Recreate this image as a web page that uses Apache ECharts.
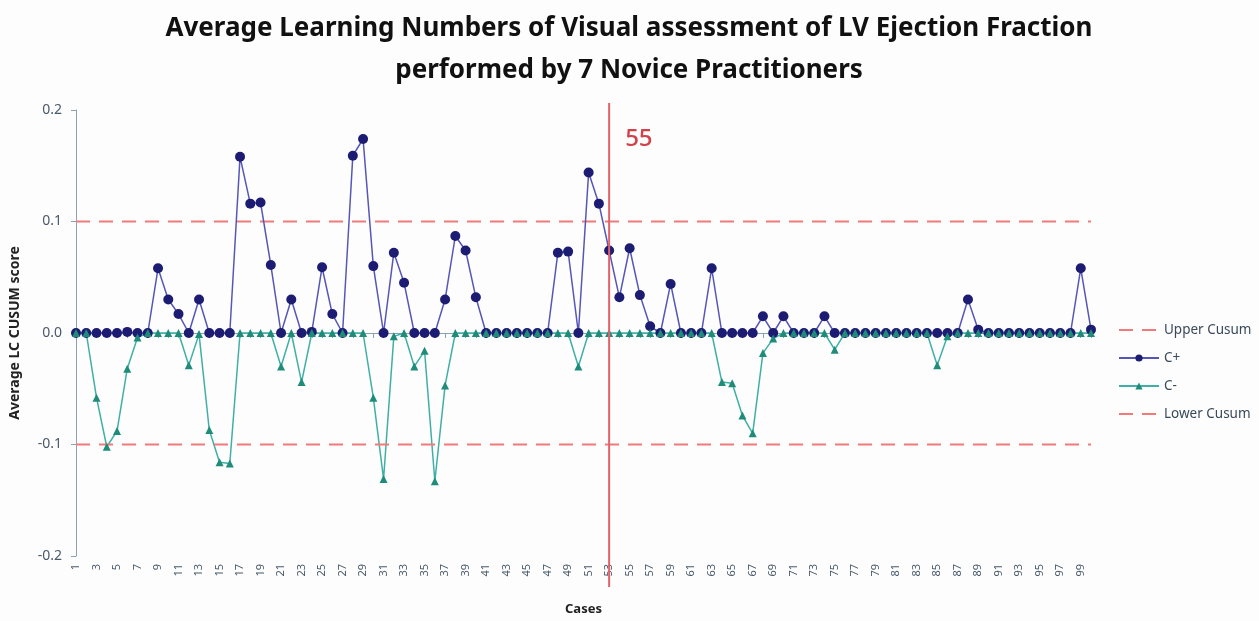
<!DOCTYPE html>
<html>
<head>
<meta charset="utf-8">
<script src="https://cdn.jsdelivr.net/npm/echarts@6/dist/echarts.min.js"></script>
<style>
html,body{margin:0;padding:0;background:#fdfdfd;}
#c1{width:1259px;height:621px;}
</style>
</head>
<body>
<div id="c1"></div>
<script>
var cases = [1,2,3,4,5,6,7,8,9,10,11,12,13,14,15,16,17,18,19,20,
  21,22,23,24,25,26,27,28,29,30,31,32,33,34,35,36,37,38,39,40,
  41,42,43,44,45,46,47,48,49,50,51,52,53,54,55,56,57,58,59,60,
  61,62,63,64,65,66,67,68,69,70,71,72,73,74,75,76,77,78,79,80,
  81,82,83,84,85,86,87,88,89,90,91,92,93,94,95,96,97,98,99,100];

var c_plus = [0,0,0,0,0,0.001,0,0,0.058,0.030,
  0.017,0,0.030,0,0,0,0.158,0.116,0.117,0.061,
  0,0.030,0,0.001,0.059,0.017,0,0.159,0.174,0.060,
  0,0.072,0.045,0,0,0,0.030,0.087,0.074,0.032,
  0,0,0,0,0,0,0,0.072,0.073,0,
  0.144,0.116,0.074,0.032,0.076,0.034,0.006,0,0.044,0,
  0,0,0.058,0,0,0,0,0.015,0,0.015,
  0,0,0,0.015,0,0,0,0,0,0,
  0,0,0,0,0,0,0,0.030,0.003,0,
  0,0,0,0,0,0,0,0,0.058,0.003];

var c_minus = [0,0,-0.058,-0.102,-0.088,-0.032,-0.004,0,0,0,
  0,-0.029,-0.001,-0.087,-0.116,-0.117,0,0,0,0,
  -0.030,0,-0.044,0,0,0,0,0,0,-0.058,
  -0.131,-0.003,0,-0.030,-0.016,-0.133,-0.047,0,0,0,
  0,0,0,0,0,0,0,0,0,-0.030,
  0,0,0,0,0,0,0,0,0,0,
  0,0,0,-0.044,-0.045,-0.074,-0.090,-0.018,-0.005,0,
  0,0,0,0,-0.015,0,0,0,0,0,
  0,0,0,0,-0.029,-0.003,0,0,0,0,
  0,0,0,0,0,0,0,0,0,0];

var upper_cusum = [['1', 0.1], ['100', 0.1]];
var lower_cusum = [['1', -0.1], ['100', -0.1]];
var y_ticks = [-0.2, -0.1, 0.0, 0.1, 0.2];
var cut_case = 53, cut_label = '55';

var c1_chart = echarts.init(document.getElementById('c1'));

var limit_style = {color: '#f07a7a', width: 2, type: [14, 9]};
var axis_color = '#8aa2b2';
var label_color = '#4a5a6a';

var c1_option = {
  backgroundColor: '#fdfdfd',
  animation: false,
  title: {
    text: 'Average Learning Numbers of Visual assessment of LV Ejection Fraction\nperformed by 7 Novice Practitioners',
    left: 624, top: 3, textAlign: 'center',
    textStyle: {fontFamily: 'Noto Sans', fontWeight: 'bold', fontSize: 26, lineHeight: 42, color: '#111'}
  },
  legend: {
    orient: 'vertical', left: 1113, top: 318,
    itemWidth: 40, itemHeight: 9, itemGap: 14,
    textStyle: {fontFamily: 'Noto Sans', fontSize: 13.5, color: '#3a4a5a'},
    data: [
      {name: 'Upper Cusum', itemStyle: {opacity: 0}},
      'C+', 'C-',
      {name: 'Lower Cusum', itemStyle: {opacity: 0}}
    ]
  },
  grid: {left: 74, right: 168, top: 110, bottom: 59, containLabel: false},
  xAxis: {
    type: 'category', data: cases, boundaryGap: false,
    name: 'Cases', nameLocation: 'middle', nameGap: 47,
    nameTextStyle: {fontFamily: 'Noto Sans', fontWeight: 'bold', fontSize: 13, color: '#222'},
    axisLine: {lineStyle: {color: axis_color}},
    axisTick: {show: true, interval: 0, length: 5, lineStyle: {color: axis_color}},
    axisLabel: {interval: 1, rotate: 90, margin: 8, fontFamily: 'Noto Sans', fontSize: 11, color: label_color},
    splitLine: {show: false}
  },
  yAxis: {
    type: 'value', min: y_ticks[0], max: y_ticks[y_ticks.length - 1], interval: 0.1,
    name: 'Average LC CUSUM score', nameLocation: 'middle', nameGap: 54, nameRotate: 90,
    nameTextStyle: {fontFamily: 'Noto Sans', fontWeight: 'bold', fontSize: 14, color: '#222'},
    axisLine: {show: true, lineStyle: {color: axis_color}},
    axisTick: {show: true, length: 5, lineStyle: {color: axis_color}},
    axisLabel: {margin: 14, fontFamily: 'Noto Sans', fontSize: 14, color: label_color,
      formatter: function(v){ return v.toFixed(1); }},
    splitLine: {show: false}
  },
  series: [
    {name: 'Upper Cusum', type: 'line', data: upper_cusum, symbol: 'none',
      lineStyle: limit_style, itemStyle: {color: '#f07a7a'}},
    {name: 'C+', type: 'line', data: c_plus, symbol: 'circle', symbolSize: 10, showAllSymbol: true,
      lineStyle: {color: '#5656b8', width: 1.5}, itemStyle: {color: '#1c1c72'}},
    {name: 'C-', type: 'line', data: c_minus, symbol: 'triangle', symbolSize: 8, showAllSymbol: true,
      lineStyle: {color: '#3fb0a6', width: 1.5}, itemStyle: {color: '#1f8c7a'}},
    {name: 'Lower Cusum', type: 'line', data: lower_cusum, symbol: 'none',
      lineStyle: limit_style, itemStyle: {color: '#f07a7a'}}
  ]
};
c1_chart.setOption(c1_option);

// cut-off line drawn through the axis scale, past the grid like the original
var cut_x = c1_chart.convertToPixel({xAxisIndex: 0}, cut_case - 1);
var top_y = c1_chart.convertToPixel({yAxisIndex: 0}, y_ticks[y_ticks.length - 1]);
var bot_y = c1_chart.convertToPixel({yAxisIndex: 0}, y_ticks[0]);
c1_chart.setOption({
  graphic: [
    {type: 'line', shape: {x1: cut_x, y1: top_y - 7, x2: cut_x, y2: bot_y + 31},
      style: {stroke: '#e2626a', lineWidth: 2}, z: 10},
    {type: 'text', x: cut_x + 16, y: top_y + 29,
      style: {text: cut_label, fill: '#d4404a', font: '500 24px "Noto Sans"', verticalAlign: 'middle'}, z: 10}
  ]
});
</script>
</body>
</html>
